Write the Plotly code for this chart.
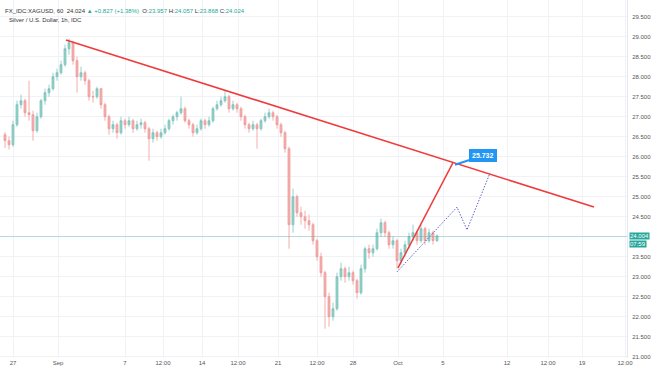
import plotly.graph_objects as go

# ---- data (bar index, hourly candles condensed) ----
opens = [26.55,26.40,26.30,26.80,27.30,27.40,27.10,27.05,26.65,27.00,27.40,27.60,27.70,28.00,28.10,28.30,28.70,28.85,28.40,28.00,
         28.10,27.90,27.50,27.50,27.70,27.30,27.00,26.70,26.80,26.60,26.90,26.80,26.90,26.70,26.80,26.85,26.70,26.45,26.60,26.50,
         26.60,26.70,26.90,27.00,27.10,27.20,26.90,26.80,26.60,26.70,26.90,26.80,26.90,27.20,27.30,27.40,27.50,27.20,27.30,27.20,
         27.00,26.80,26.70,26.80,26.70,26.90,27.00,27.10,27.00,26.80,26.60,26.20,24.30,25.00,24.60,24.50,24.40,24.30,23.90,23.50,
         23.10,22.50,22.00,22.20,23.00,23.20,23.00,23.10,22.90,22.60,23.20,23.70,23.60,23.70,24.10,24.35,24.10,23.80,23.90,23.40,
         23.60,23.80,24.00,24.10,23.90,24.20,23.90,24.10,23.90]
highs = [26.62,26.50,26.90,27.40,27.55,27.45,27.90,27.15,27.10,27.45,27.70,27.80,28.10,28.20,28.40,28.80,28.95,28.90,28.50,28.25,
         28.15,27.95,27.65,27.75,27.72,27.35,27.05,26.90,26.85,27.00,26.95,27.00,26.95,26.90,26.95,26.90,26.75,26.70,26.65,26.70,
         26.80,26.95,27.05,27.15,27.50,27.25,26.95,26.85,26.80,26.95,26.95,27.00,27.25,27.40,27.50,27.65,27.55,27.40,27.35,27.25,
         27.05,26.85,26.90,26.85,26.95,27.10,27.20,27.15,27.05,26.85,26.65,26.25,25.20,25.05,24.75,24.65,24.55,24.35,23.95,23.60,
         23.15,22.60,22.35,23.10,23.35,23.25,23.25,23.15,22.95,23.30,23.75,23.80,23.80,24.20,24.45,24.40,24.15,24.00,23.95,23.70,
         23.90,24.10,24.30,24.15,24.30,24.25,24.20,24.15,24.06]
lows = [26.22,26.18,26.25,26.75,27.20,27.00,26.90,26.40,26.60,26.95,27.30,27.50,27.65,27.90,28.05,28.25,28.55,28.30,27.60,27.90,
        27.80,27.40,27.35,27.45,27.20,26.90,26.55,26.60,26.45,26.55,26.70,26.75,26.60,26.65,26.70,26.60,25.90,26.35,26.40,26.45,
        26.55,26.65,26.80,26.90,27.05,26.85,26.70,26.50,26.55,26.65,26.70,26.75,26.85,27.15,27.25,27.35,27.10,27.15,27.10,26.90,
        26.70,26.60,26.65,26.20,26.65,26.85,26.95,26.90,26.70,26.50,26.10,23.70,24.10,24.50,24.30,24.20,24.15,23.80,23.40,23.00,
        21.70,21.75,21.90,22.15,22.90,22.85,22.90,22.80,22.45,22.55,23.10,23.45,23.50,23.65,24.00,24.00,23.70,23.70,23.20,23.30,
        23.50,23.70,23.90,23.80,23.85,23.80,23.85,23.80,23.87]
closes = [26.40,26.30,26.80,27.30,27.40,27.10,27.05,26.65,27.00,27.40,27.60,27.70,28.00,28.10,28.30,28.70,28.85,28.40,28.00,28.10,
          27.90,27.50,27.50,27.70,27.30,27.00,26.70,26.80,26.60,26.90,26.80,26.90,26.70,26.80,26.85,26.70,26.45,26.60,26.50,26.60,
          26.70,26.90,27.00,27.10,27.20,26.90,26.80,26.60,26.70,26.90,26.80,26.90,27.20,27.30,27.40,27.50,27.20,27.30,27.20,27.00,
          26.80,26.70,26.80,26.70,26.90,27.00,27.10,27.00,26.80,26.60,26.20,24.30,25.00,24.60,24.50,24.40,24.30,23.90,23.50,23.10,
          22.50,22.00,22.20,23.00,23.20,23.00,23.10,22.90,22.60,23.20,23.70,23.60,23.70,24.10,24.35,24.10,23.80,23.90,23.40,23.60,
          23.80,24.00,24.10,23.90,24.20,23.90,24.10,23.90,24.02]
bars = list(range(len(closes)))

tick_positions = [2, 13.25, 30, 39.5, 49.25, 58.25, 68.25, 78, 87, 98.25, 109.5, 125.5, 135.75, 144.25, 155]
tick_labels = ["27", "Sep", "7", "12:00", "14", "12:00", "21", "12:00", "28", "Oct", "5", "12", "12:00", "19", "12:00"]

price_ticks = [21.0, 21.5, 22.0, 22.5, 23.0, 23.5, 24.0, 24.5, 25.0, 25.5, 26.0, 26.5, 27.0, 27.5, 28.0, 28.5, 29.0, 29.5]
price_labels = ["21.000", "21.500", "22.000", "22.500", "23.000", "23.500", "", "24.500", "25.000",
                "25.500", "26.000", "26.500", "27.000", "27.500", "28.000", "28.500", "29.000", "29.500"]

trend_x = [15.25, 147.25]
trend_y = [28.92, 24.74]
arrow_x = [98.25, 112.0]
arrow_y = [23.22, 25.85]
path_x = [98.0, 113.0, 115.5, 121.25]
path_y = [23.12, 24.74, 24.17, 25.59]
last_price = 24.004
target_label = "25.732"

fig = go.Figure()
fig.add_trace(go.Candlestick(
    x=bars, open=opens, high=highs, low=lows, close=closes,
    increasing=dict(line=dict(color="#7cc4bb", width=0.8), fillcolor="#94d0c8"),
    decreasing=dict(line=dict(color="#ee9a99", width=0.8), fillcolor="#f3b1b0"),
    whiskerwidth=0, showlegend=False, hoverinfo="skip"))

fig.add_trace(go.Scatter(x=trend_x, y=trend_y, mode="lines",
                         line=dict(color="#ef3b3b", width=1.6), showlegend=False, hoverinfo="skip"))
fig.add_trace(go.Scatter(x=arrow_x, y=arrow_y, mode="lines",
                         line=dict(color="#ef3b3b", width=1.5), showlegend=False, hoverinfo="skip"))
fig.add_trace(go.Scatter(x=path_x, y=path_y, mode="lines",
                         line=dict(color="#5b63c9", width=1, dash="1.5px,1.5px"), showlegend=False, hoverinfo="skip"))

fig.add_hline(y=last_price, line=dict(color="rgba(38,166,154,0.3)", width=1))

fig.add_annotation(x=arrow_x[1] + 0.5, y=arrow_y[1] - 0.05, ax=28, ay=-9,
                   text=f"<b>{target_label}</b>", showarrow=True, arrowhead=0,
                   arrowcolor="#2196f3", arrowwidth=2, bgcolor="#2196f3",
                   bordercolor="#2196f3", borderpad=2, font=dict(color="white", size=7, family="Arial"))

fig.add_annotation(xref="paper", x=1.0, xanchor="left", y=last_price, yref="y",
                   text="24.004", showarrow=False, bgcolor="#26a69a", borderpad=0, xshift=2, yshift=1,
                   font=dict(color="white", size=6, family="Arial"), yanchor="middle")
fig.add_annotation(xref="paper", x=1.0, xanchor="left", y=last_price, yref="y",
                   text="07:59", showarrow=False, bgcolor="#26a69a", borderpad=0, xshift=2, yshift=-7,
                   font=dict(color="white", size=6, family="Arial"), yanchor="middle")

fig.add_annotation(xref="paper", yref="paper", x=0.004, y=1.008, xanchor="left", yanchor="middle",
                   text="Published on TradingView.com, October 05, 2020 14:30 UTC", showarrow=False,
                   font=dict(color="#333", size=6, family="Arial"))
fig.add_annotation(xref="paper", yref="paper", x=0.004, y=0.97, xanchor="left", yanchor="middle",
                   text="FX_IDC:XAGUSD, 60  24.024 <span style='color:#26a69a'>▲ +0.827 (+1.38%)</span>  O:<span style='color:#26a69a'>23.957</span> H:<span style='color:#26a69a'>24.057</span> L:<span style='color:#26a69a'>23.868</span> C:<span style='color:#26a69a'>24.024</span>",
                   showarrow=False, font=dict(color="#333", size=6, family="Arial"))
fig.add_annotation(xref="paper", yref="paper", x=0.011, y=0.944, xanchor="left", yanchor="middle",
                   text="Silver / U.S. Dollar, 1h, IDC", showarrow=False,
                   font=dict(color="#333", size=6, family="Arial"))

fig.update_layout(
    width=654, height=366, margin=dict(l=0, r=27, t=0, b=8, autoexpand=False),
    paper_bgcolor="white", plot_bgcolor="white",
    xaxis=dict(range=[-1.25, 155.5], tickvals=tick_positions, ticktext=tick_labels,
               showgrid=True, gridcolor="#f0f2f6", gridwidth=1, zeroline=False, automargin=False,
               rangeslider=dict(visible=False), ticks="", tickfont=dict(size=6, color="#555", family="Arial"),
               showline=False, fixedrange=True, ticklabelstandoff=0),
    yaxis=dict(side="right", range=[20.967, 29.918], tickvals=price_ticks, automargin=False,
               ticktext=price_labels, showgrid=True, gridcolor="#f0f2f6",
               zeroline=False, ticks="", tickfont=dict(size=6, color="#555", family="Arial"),
               showline=True, linecolor="#e6e8ee", linewidth=1, ticklabelstandoff=3, fixedrange=True),
    font=dict(family="Arial"),
)

fig.write_html("out.html", config={"displayModeBar": False},
               post_script="document.body.style.margin='0';document.body.style.overflow='hidden';")
